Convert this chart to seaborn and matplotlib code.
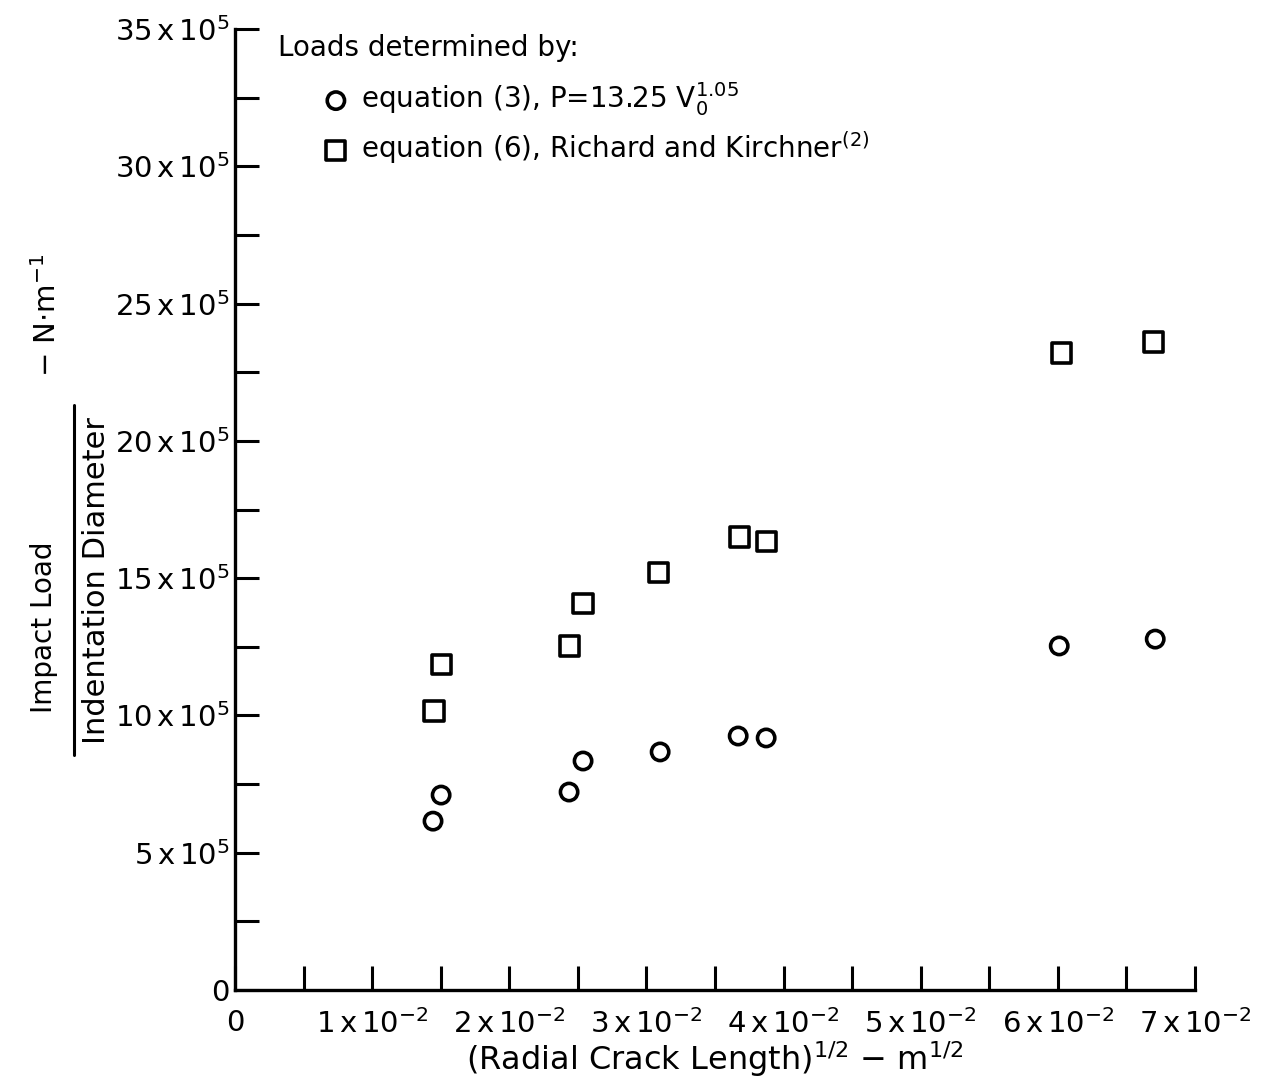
import numpy as np
import pandas as pd
import matplotlib
matplotlib.use("Agg")
import matplotlib.pyplot as plt
from matplotlib.ticker import MultipleLocator, FuncFormatter
from matplotlib.lines import Line2D
import seaborn as sns

# Square root of radial crack length, m^1/2
crack_root_eq3 = [1.444e-2, 1.503e-2, 2.436e-2, 2.538e-2, 3.100e-2, 3.669e-2, 3.873e-2, 6.010e-2, 6.710e-2]
crack_root_eq6 = [1.451e-2, 1.503e-2, 2.436e-2, 2.538e-2, 3.085e-2, 3.676e-2, 3.873e-2, 6.025e-2, 6.696e-2]
# Impact load per indentation diameter, N/m
load_eq3 = [6.15e5, 7.10e5, 7.21e5, 8.34e5, 8.67e5, 9.25e5, 9.18e5, 12.53e5, 12.78e5]
load_eq6 = [10.16e5, 11.84e5, 12.53e5, 14.09e5, 15.19e5, 16.50e5, 16.35e5, 23.20e5, 23.60e5]

label_eq3 = r"equation (3), P=13.25 V$_0^{1.05}$"
label_eq6 = r"equation (6), Richard and Kirchner$^{(2)}$"
legend_title = "Loads determined by:"

sns.set_style("ticks")
plt.rcParams["font.family"] = ["DejaVu Sans"]
plt.rcParams["mathtext.fontset"] = "dejavusans"
plt.rcParams["text.color"] = "black"
plt.rcParams["axes.labelcolor"] = "black"
plt.rcParams["xtick.color"] = "black"
plt.rcParams["ytick.color"] = "black"

W, H = 1268, 1085
fig = plt.figure(figsize=(W / 100, H / 100), dpi=100)
left, right, top, bottom = 235, 1195, 29, 990
ax = fig.add_axes([left / W, 1 - bottom / H, (right - left) / W, (bottom - top) / H])

df3 = pd.DataFrame({"x": crack_root_eq3, "y": load_eq3})
df6 = pd.DataFrame({"x": crack_root_eq6, "y": load_eq6})
sns.scatterplot(data=df3, x="x", y="y", marker="o", s=155, facecolor="none",
                edgecolor="black", linewidth=2.6, ax=ax, label=label_eq3, zorder=3)
sns.scatterplot(data=df6, x="x", y="y", marker="s", s=190, facecolor="none",
                edgecolor="black", linewidth=2.6, ax=ax, label=label_eq6, zorder=3)

ax.set_xlim(0, 7e-2)
ax.set_ylim(0, 35e5)
sns.despine(ax=ax)
for side in ("left", "bottom"):
    ax.spines[side].set_linewidth(2.4)
    ax.spines[side].set_color("black")

ax.xaxis.set_major_locator(MultipleLocator(1e-2))
ax.xaxis.set_minor_locator(MultipleLocator(0.5e-2))
ax.yaxis.set_major_locator(MultipleLocator(5e5))
ax.yaxis.set_minor_locator(MultipleLocator(2.5e5))


def fmt_x(v, pos):
    k = int(round(v / 1e-2))
    return "0" if k == 0 else r"$%d\,\mathrm{x}\,10^{-2}$" % k


def fmt_y(v, pos):
    k = int(round(v / 1e5))
    return "0" if k == 0 else r"$%d\,\mathrm{x}\,10^{5}$" % k


ax.xaxis.set_major_formatter(FuncFormatter(fmt_x))
ax.yaxis.set_major_formatter(FuncFormatter(fmt_y))
ax.tick_params(which="both", direction="in", length=17, width=2.2, colors="black")
ax.tick_params(axis="x", which="major", labelsize=21, pad=14)
ax.tick_params(axis="y", which="major", labelsize=21, pad=4)
ax.set_xlabel(r"(Radial Crack Length)$^{1/2}$ $-$ m$^{1/2}$", fontsize=23, labelpad=0)
ax.set_ylabel("")

# Fraction-style y-axis title
fig.text(44 / W, 1 - 627 / H, "Impact Load", rotation=90, ha="center", va="center", fontsize=20)
fig.text(97 / W, 1 - 580 / H, "Indentation Diameter", rotation=90, ha="center", va="center", fontsize=22)
fig.add_artist(Line2D([74 / W, 74 / W], [1 - 405 / H, 1 - 755 / H], color="black", lw=2.2,
                      transform=fig.transFigure))
fig.text(47 / W, 1 - 315 / H, r"$-$ N$\cdot$m$^{-1}$", rotation=90, ha="center", va="center", fontsize=21)

# Legend
fig.text(278 / W, 1 - 48 / H, legend_title, ha="left", va="center", fontsize=20)
ax.legend(loc="upper left", bbox_to_anchor=(322 / W, 1 - 80 / H), bbox_transform=fig.transFigure,
          frameon=False, fontsize=20, handlelength=1.0, handletextpad=0.4, borderpad=0,
          borderaxespad=0, labelspacing=0.4)

fig.savefig("out.png", dpi=100, facecolor="white")
